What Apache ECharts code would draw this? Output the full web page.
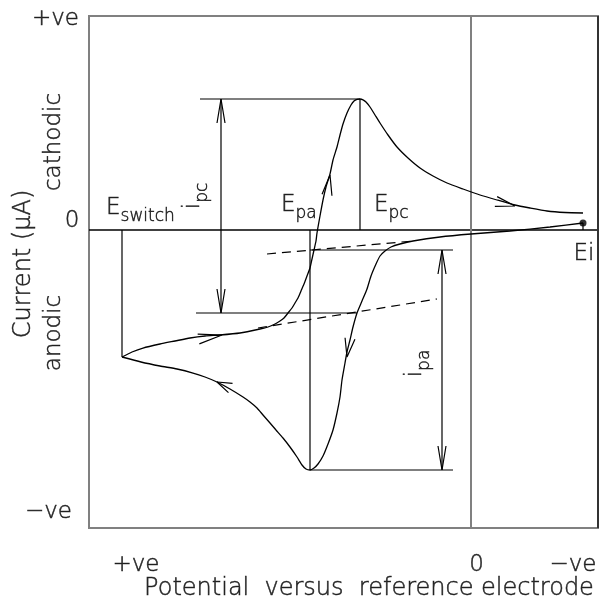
<!DOCTYPE html>
<html><head><meta charset="utf-8">
<script src="https://cdn.jsdelivr.net/npm/echarts@6/dist/echarts.min.js"></script>
<style>html,body{margin:0;padding:0;background:#fff}#c{width:601px;height:602px}</style>
</head><body><div id="c"></div>
<script>
// ---------- data (potential E in arbitrary units, 0 at reference; current i, 0 = no current) ----------
const forwardSweep = [
  [-112,7],[-79,3],[-39,-1],[0,-4],[31,-7],[58,-11],[71,-14],[80,-17],[86,-21],[91,-26],
  [95,-34],[100,-46],[104,-59],[109,-71],[114,-83],[118,-97],[121,-110],[124,-122],[126,-133],
  [129,-150],[131,-167],[134,-183],[138,-200],[143,-214],[148,-226],[153,-234],[157,-238],
  [161,-240],[165,-239],[169,-235],[174,-227],[181,-217],[188,-208],[195,-200],[201,-193],
  [208,-185],[214,-178],[221,-172],[228,-167],[241,-159],[254,-152],[266,-147],[278,-143],
  [294,-139],[311,-136],[330,-132],[349,-127]
];
const reverseSweep = [
  [349,-127],[339,-122],[328,-118],[311,-114],[296,-111],[281,-108],[266,-106],[251,-105],
  [231,-103],[211,-99],[203,-97],[196,-94],[191,-91],[187,-88],[183,-83],[179,-78],[176,-73],
  [173,-68],[170,-61],[167,-54],[164,-46],[161,-38],[159,-29],[157,-20],[155,-11],[154,-3],
  [151,14],[148,30],[145,43],[141,56],[138,70],[134,83],[131,95],[128,106],[124,117],[120,125],
  [117,129],[114,130.7],[111,131],[108,130.2],[105,128],[101,123],[96,115],[91,107],[83,95],
  [74,83],[63,72],[51,62],[38,54],[24,47],[8,41],[-9,35],[-26,30],[-44,25],[-59,22],[-76,19],
  [-94,17.5],[-112,17]
];
const initialPoint = [-112, 7];
const switchPotential = 349;
const cathodicPeak = [111, 131];
const cathodicBaseAtPeak = -83;
const anodicPeak = [161, -240];
const anodicBaseAtPeak = -20;
const cathodicBaseline = [[213,-98],[34,-69]];
const anodicBaseline = [[204,-24],[58,-11]];
// direction arrows on the sweep: [tipE, tipI, backE, backI]
const sweepArrows = [
  [141,55,144,35],[-44,24,-25,28.5],[124,-127,121,-108.5],[249,-105,272.5,-109],[254,-152,240.5,-158]
];
const currentTickLabels = ['+ve','0','\u2212ve'];
const potentialTickLabels = ['+ve','0','\u2212ve'];
const currentAxisTitle = 'Current (\u03bcA)';
const potentialAxisTitle = 'Potential  versus  reference electrode';
const axisRange = {Emin:-127, Emax:382, imin:-298, imax:214};

// ---------- layout ----------
const FONT = 'DejaVu Sans';
const FW = 200;
const LAY = {
  ipcE: 250, ipcLineStart: 271, ipcLowStart: 275, ipcLowEnd: 114,
  ipaE: 29, ipaLineEnd: 18,
  yArrowE: 398, yArrowUp: [38,188], yArrowDown: [-23,-248],
  yTicks: [[392,211,'right'],[399,8.5,'center'],[399,-282,'right']],
  xTicks: [[335,-335],[-5.5,-335],[-102,-335]],
  xTitle: [102,-359],
  cathodic: [417,88], current: [447,-34], anodic: [417,-103],
  Eswitch: [365,19], Epa: [190,22], Epc: [97,22], ipc: [274.5,34], ipa: [52.5,-133.5], Ei: [-113,-24]
};

function line(data, extra) {
  return Object.assign({type:'line', data, symbol:'none', showSymbol:false, silent:true,
    clip:false, animation:false, z:3, lineStyle:{color:'#000', width:1.2}}, extra || {});
}
function arrowHead(a, w) {
  const [tE, tI, bE, bI] = a;
  const dx = bE - tE, dy = bI - tI, len = Math.hypot(dx, dy);
  const px = -dy / len * w, py = dx / len * w;
  return [[bE + px, bI + py], [tE, tI], [bE - px, bI - py]];
}
const series = [];
// axes lines
series.push(line([[axisRange.Emin,0],[axisRange.Emax,0]], {lineStyle:{color:'#000', width:1.5}}));
series.push(line([[0,axisRange.imin],[0,axisRange.imax]], {lineStyle:{color:'#808080', width:2}}));
series.push(line([[axisRange.Emin,axisRange.imin],[axisRange.Emin,axisRange.imax]], {lineStyle:{color:'#333', width:2}}));
// voltammogram
series.push(line(forwardSweep, {smooth:0.2, lineStyle:{color:'#000', width:1.3}, z:4}));
series.push(line(reverseSweep, {smooth:0.2, lineStyle:{color:'#000', width:1.3}, z:4}));
sweepArrows.forEach(a => series.push(line(arrowHead(a, 5), {z:4})));
// construction lines
series.push(line([[LAY.ipcLineStart,cathodicPeak[1]],[cathodicPeak[0],cathodicPeak[1]]]));
series.push(line([[LAY.ipcLowStart,cathodicBaseAtPeak],[LAY.ipcLowEnd,cathodicBaseAtPeak]]));
series.push(line([[LAY.ipcE,cathodicPeak[1]],[LAY.ipcE,cathodicBaseAtPeak]]));
series.push(line([[cathodicPeak[0],cathodicPeak[1]],[cathodicPeak[0],0]]));
series.push(line([[anodicPeak[0],0],[anodicPeak[0],anodicPeak[1]]]));
series.push(line([[anodicPeak[0],anodicBaseAtPeak],[LAY.ipaLineEnd,anodicBaseAtPeak]]));
series.push(line([[anodicPeak[0],anodicPeak[1]],[LAY.ipaLineEnd,anodicPeak[1]]]));
series.push(line([[LAY.ipaE,anodicBaseAtPeak],[LAY.ipaE,anodicPeak[1]]]));
series.push(line([[switchPotential,0],[switchPotential,forwardSweep[forwardSweep.length-1][1]]]));
series.push(line([[initialPoint[0],initialPoint[1]],[initialPoint[0],0]]));
series.push(line(cathodicBaseline, {lineStyle:{color:'#000', width:1.2, type:[9,6]}}));
series.push(line(anodicBaseline, {lineStyle:{color:'#000', width:1.2, type:[9,6]}}));
// dimension arrowheads
[[LAY.ipcE,cathodicPeak[1],LAY.ipcE,cathodicPeak[1]-24],
 [LAY.ipcE,cathodicBaseAtPeak,LAY.ipcE,cathodicBaseAtPeak+24],
 [LAY.ipaE,anodicBaseAtPeak,LAY.ipaE,anodicBaseAtPeak-24],
 [LAY.ipaE,anodicPeak[1],LAY.ipaE,anodicPeak[1]+24]].forEach(a => series.push(line(arrowHead(a,4))));
// y-direction arrows (cathodic / anodic)
series.push(line([[LAY.yArrowE,LAY.yArrowUp[0]],[LAY.yArrowE,LAY.yArrowUp[1]]]));
series.push(line(arrowHead([LAY.yArrowE,LAY.yArrowUp[1],LAY.yArrowE,LAY.yArrowUp[1]-25],4)));
series.push(line([[LAY.yArrowE,LAY.yArrowDown[0]],[LAY.yArrowE,LAY.yArrowDown[1]]]));
series.push(line(arrowHead([LAY.yArrowE,LAY.yArrowDown[1],LAY.yArrowE,LAY.yArrowDown[1]+24],4)));
// initial point dot
series.push({type:'scatter', data:[initialPoint], symbolSize:7, itemStyle:{color:'#000'}, silent:true, z:6, clip:false, animation:false});

// text
const ink = {fontFamily:FONT, fontWeight:FW, color:'#000', textBorderColor:'#000', textBorderWidth:0.5};
const base = Object.assign({fontSize:23}, ink);
const rich = {
  m: Object.assign({fontSize:23, verticalAlign:'bottom', padding:[0,0,6,0]}, ink),
  s: Object.assign({fontSize:17, verticalAlign:'bottom'}, ink),
  mr: Object.assign({fontSize:23, verticalAlign:'bottom', padding:[0,0,7,0]}, ink)
};
function txt(pos, text, o) {
  return {value:pos, label:Object.assign({show:true, position:'inside', formatter:text, align:'center', verticalAlign:'middle', rich}, base, o||{})};
}
const texts = [];
LAY.yTicks.forEach((p,k) => texts.push(txt([p[0],p[1]], currentTickLabels[k], {align:p[2]})));
LAY.xTicks.forEach((p,k) => texts.push(txt(p, potentialTickLabels[k])));
texts.push(txt(LAY.xTitle, potentialAxisTitle, {fontSize:24}));
texts.push(txt(LAY.current, currentAxisTitle, {rotate:90, fontSize:24}));
texts.push(txt(LAY.cathodic, 'cathodic', {rotate:90}));
texts.push(txt(LAY.anodic, 'anodic', {rotate:90}));
texts.push(txt(LAY.Eswitch, '{m|E}{s|switch}', {align:'left'}));
texts.push(txt(LAY.Epa, '{m|E}{s|pa}', {align:'left'}));
texts.push(txt(LAY.Epc, '{m|E}{s|pc}', {align:'left'}));
texts.push(txt(LAY.ipc, '{mr|i}{s|pc}', {rotate:90}));
texts.push(txt(LAY.ipa, '{mr|i}{s|pa}', {rotate:90}));
texts.push(txt(LAY.Ei, 'Ei'));
series.push({type:'scatter', data:texts, symbolSize:0, silent:true, clip:false, z:7, animation:false});

const chart = echarts.init(document.getElementById('c'), null, {renderer:'canvas'});
chart.setOption({
  animation:false,
  backgroundColor:'#fff',
  grid:{left:89, right:3, top:16, bottom:74, show:true, borderColor:'#808080', borderWidth:2, backgroundColor:'transparent'},
  xAxis:{type:'value', min:axisRange.Emin, max:axisRange.Emax, inverse:true, show:false},
  yAxis:{type:'value', min:axisRange.imin, max:axisRange.imax, show:false},
  series
});
</script></body></html>
